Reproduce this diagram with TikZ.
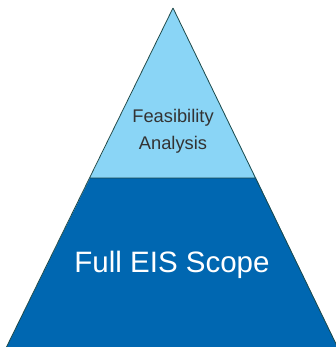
\documentclass[tikz,border=0pt]{standalone}
\usepackage{fontspec}
\setmainfont{Liberation Sans}
\definecolor{lightblu}{HTML}{8AD5F6}
\definecolor{darkblu}{HTML}{0067B1}
\definecolor{edge}{HTML}{1E4A4A}
\begin{document}
\begin{tikzpicture}[x=1pt,y=1pt,
  part/.style={draw=edge, line width=0.8pt, line join=miter},
  small/.style={anchor=base, text=black!80, font=\fontsize{18.3}{26}\selectfont},
  big/.style={anchor=base, text=white, font=\fontsize{29.5}{34}\selectfont}]
\useasboundingbox (0,0) rectangle (336,347);
\coordinate (apex) at (173,339);
\coordinate (ml) at (90,169);
\coordinate (mr) at (256,169);
\coordinate (bl) at (6,-1);
\coordinate (br) at (338,-1);
\fill[darkblu] (ml) -- (mr) -- (br) -- (bl) -- cycle;
\fill[lightblu] (apex) -- (mr) -- (ml) -- cycle;
\draw[part] (apex) -- (br) (apex) -- (bl) (ml) -- (mr);
\node[small] (f) at (173,224) {Feasibility};
\node[small] (a) at (173,197) {Analysis};
\node[big] (s) at (172,74) {Full EIS Scope};
\end{tikzpicture}
\end{document}
